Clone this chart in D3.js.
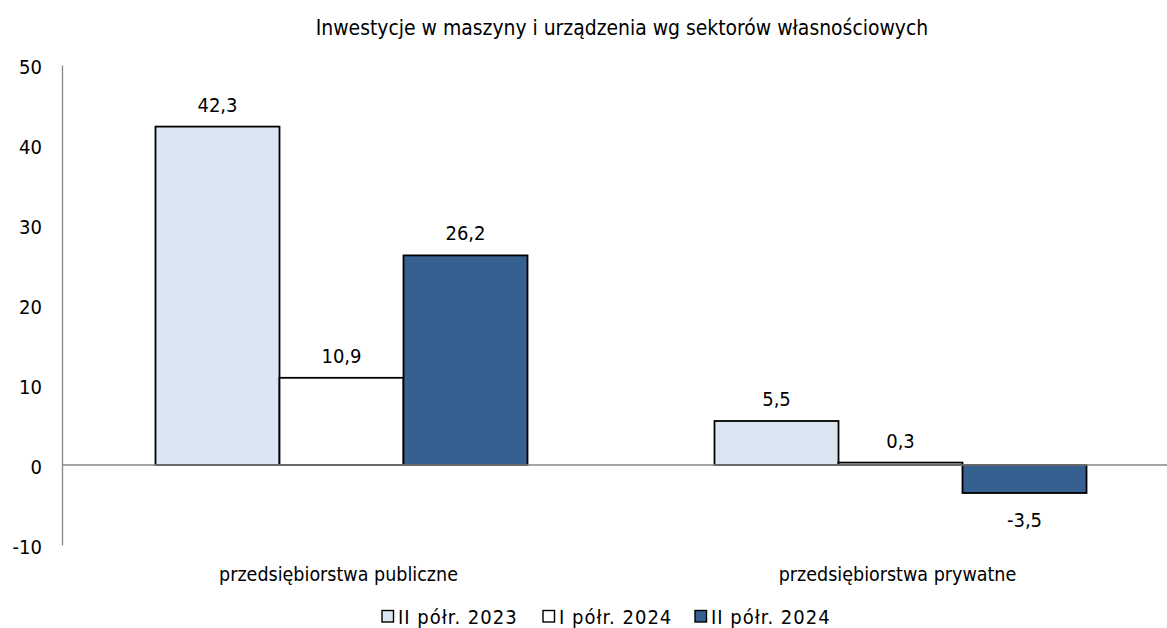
<!DOCTYPE html>
<html>
<head>
<meta charset="utf-8">
<script src="https://cdn.jsdelivr.net/npm/d3@7"></script>
<style>
  body { margin: 0; background: #fff; }
  svg text { font-family: "DejaVu Sans Condensed", "DejaVu Sans", sans-serif; fill: #000; }
</style>
</head>
<body>
<svg id="chart" width="1167" height="628"></svg>
<script>
// Chart data
const title = "Inwestycje w maszyny i urządzenia wg sektorów własnościowych";
const categories = ["przedsiębiorstwa publiczne", "przedsiębiorstwa prywatne"];
const seriesNames = ["II półr. 2023", "I półr. 2024", "II półr. 2024"];
const seriesColors = ["#dce6f2", "#ffffff", "#36608f"];
const valuesH2_2023 = [42.3, 5.5];
const valuesH1_2024 = [10.9, 0.3];
const valuesH2_2024 = [26.2, -3.5];
const yTicks = [-10, 0, 10, 20, 30, 40, 50];

const seriesValues = [valuesH2_2023, valuesH1_2024, valuesH2_2024];
const fmt = v => v.toFixed(1).replace(".", ",");

const svg = d3.select("#chart");

const x0 = d3.scaleBand().domain(categories).range([62, 1180]).padding(0);
const x1 = d3.scaleBand().domain(seriesNames).range([0, x0.bandwidth()]).paddingInner(0).paddingOuter(0.754);
const y = d3.scaleLinear().domain([-10, 50]).range([545, 65]);

// Title
svg.append("text")
  .attr("x", 622).attr("y", 35)
  .attr("text-anchor", "middle")
  .style("font-size", "20.9px")
  .text(title);

// Y axis (no tick marks, only labels and the vertical line)
const yAxis = d3.axisLeft(y).tickValues(yTicks).tickSize(0).tickPadding(20).tickFormat(d => d);
const gy = svg.append("g").attr("transform", "translate(62,0)").call(yAxis);
gy.select(".domain").attr("stroke", "#868686").attr("stroke-width", 1.3);
gy.selectAll("text")
  .attr("dy", "0.4em")
  .style("font-size", "20px")
  .style("font-family", "'DejaVu Sans Condensed','DejaVu Sans',sans-serif");

// Bars, grouped by category
const groups = svg.append("g").selectAll("g")
  .data(categories)
  .join("g")
  .attr("transform", d => `translate(${x0(d)},0)`);

groups.each(function(cat, ci) {
  const g = d3.select(this);
  seriesNames.forEach((s, si) => {
    const v = seriesValues[si][ci];
    g.append("rect")
      .attr("x", x1(s))
      .attr("y", y(Math.max(0, v)))
      .attr("width", x1.bandwidth())
      .attr("height", Math.abs(y(v) - y(0)))
      .attr("fill", seriesColors[si])
      .attr("stroke", "#000")
      .attr("stroke-width", 1.8);
    g.append("text")
      .attr("x", x1(s) + x1.bandwidth() / 2)
      .attr("y", v >= 0 ? y(v) - 15 : y(v) + 34)
      .attr("text-anchor", "middle")
      .style("font-size", "20px")
      .text(fmt(v));
  });
});

// Zero line
svg.append("line")
  .attr("x1", 62).attr("x2", 1180)
  .attr("y1", y(0)).attr("y2", y(0))
  .attr("stroke", "#868686").attr("stroke-width", 1.3);

// Category labels
svg.append("g").selectAll("text")
  .data(categories)
  .join("text")
  .attr("x", d => x0(d) + x0.bandwidth() / 2 - 3)
  .attr("y", 581)
  .attr("text-anchor", "middle")
  .style("font-size", "19.5px")
  .text(d => d);

// Legend
const legendX = [382, 543, 695];
const legend = svg.append("g").selectAll("g")
  .data(seriesNames)
  .join("g")
  .attr("transform", (d, i) => `translate(${legendX[i]},0)`);
legend.append("rect")
  .attr("x", 0).attr("y", 610.5).attr("width", 11.5).attr("height", 11.5)
  .attr("fill", (d, i) => seriesColors[i])
  .attr("stroke", "#000").attr("stroke-width", 1.4);
legend.append("text")
  .attr("x", 16).attr("y", 624)
  .style("font-size", "20px")
  .style("letter-spacing", "1px")
  .text(d => d);
</script>
</body>
</html>
